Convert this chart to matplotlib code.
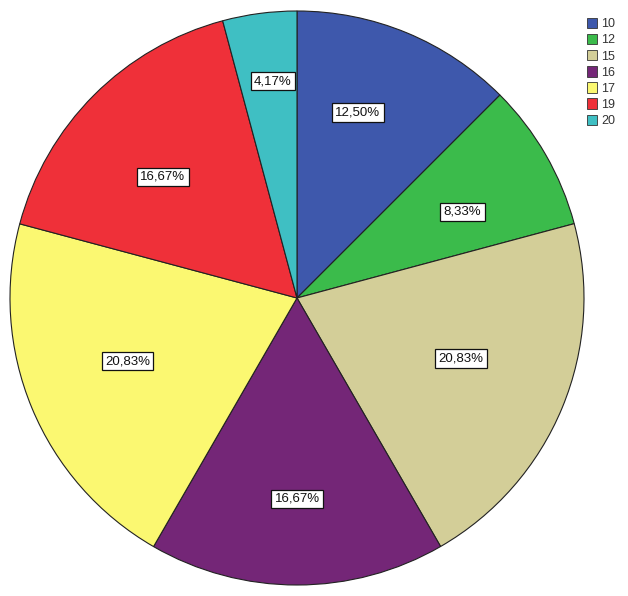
import matplotlib
matplotlib.use("Agg")
import matplotlib.pyplot as plt
from matplotlib.patches import Patch
import numpy as np

categories = ["10", "12", "15", "16", "17", "19", "20"]
percentages = [12.50, 8.33, 20.83, 16.67, 20.83, 16.67, 4.17]
colors = ["#3e58ac", "#3bbb4b", "#d3ce98", "#742677", "#fbf871", "#ef3039", "#3fbfc3"]
# label placement (layout only): radial fraction and angular offset in degrees
label_radius = [0.68, 0.65, 0.61, 0.70, 0.63, 0.63, 0.76]
label_dang = [4.3, -2.5, 2.2, 0.0, -2.1, 2.9, -1.2]

plt.rcParams['font.family'] = ['Liberation Sans', 'DejaVu Sans']

W, H, dpi = 628, 596, 100
fig = plt.figure(figsize=(W / dpi, H / dpi), dpi=dpi)
ax = fig.add_axes([0, 0, 1, 1])
cx, cy, R = 297, 298, 287

wedges, _ = ax.pie(percentages, colors=colors, startangle=90, counterclock=False,
                   wedgeprops=dict(edgecolor="#222222", linewidth=0.8))
ax.set_aspect('auto')
ax.set_xlim(-cx / R, (W - cx) / R)
ax.set_ylim(-(H - cy) / R, cy / R)

for w, p, lr, da in zip(wedges, percentages, label_radius, label_dang):
    ang = np.deg2rad((w.theta1 + w.theta2) / 2 + da)
    x, y = lr * np.cos(ang), lr * np.sin(ang)
    txt = f"{p:.2f}%".replace(".", ",")
    ax.text(x, y, txt, ha="center", va="center", fontsize=9.5, color="#111111",
            bbox=dict(boxstyle="square,pad=0.25", facecolor="white", edgecolor="#111111", linewidth=0.9))

handles = [Patch(facecolor=c, edgecolor="#333333", linewidth=0.6) for c in colors]
leg = fig.legend(handles, categories, loc="upper left", bbox_to_anchor=(578 / W, 1 - 9 / H),
                 frameon=False, fontsize=9, handlelength=0.8, handleheight=0.9,
                 handletextpad=0.35, labelspacing=0.29, borderpad=0.2)
for t in leg.get_texts():
    t.set_color("#333333")

fig.savefig("out.png", dpi=dpi)
